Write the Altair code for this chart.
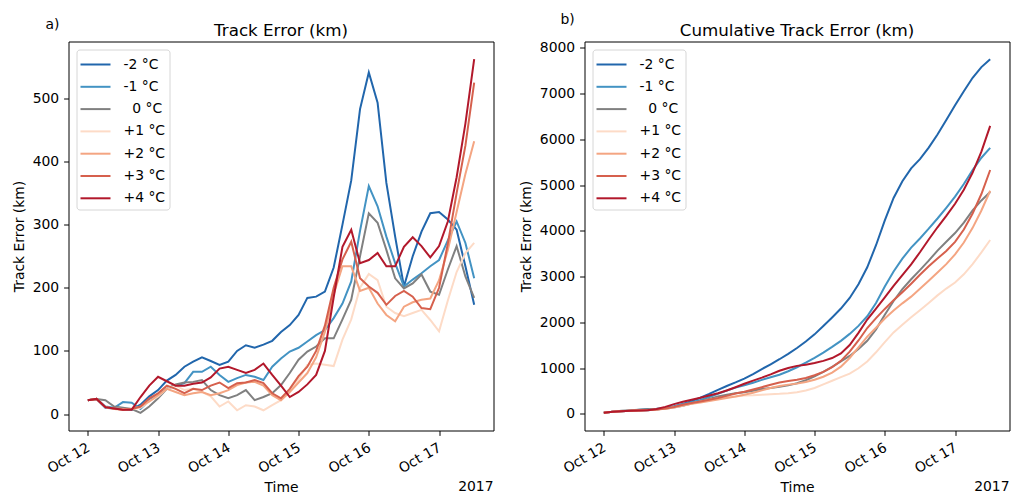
import altair as alt
import pandas as pd

# ---------------- data ----------------
times = pd.date_range("2017-10-12 00:00", periods=45, freq="3h").strftime("%Y-%m-%dT%H:%M:%S").tolist()

labels = ["-2 °C", "-1 °C", "\u200b\u20070 °C", "+1 °C", "+2 °C", "+3 °C", "+4 °C"]
colors = ["#2166ac", "#4393c3", "#808080", "#fddbc7", "#f4a582", "#d6604d", "#b2182b"]

m2 = [22, 24, 10, 9, 8, 7, 15, 28, 38, 53,
      62, 75, 83, 90, 84, 78, 83, 100, 109, 105,
      110, 116, 130, 141, 157, 184, 186, 194, 232, 300,
      370, 483, 541, 493, 366, 281, 202, 250, 289, 318,
      320, 308, 292, 234, 173]
m1 = [22, 24, 12, 10, 19, 18, 8, 22, 32, 40,
      45, 49, 67, 67, 75, 62, 51, 57, 62, 59,
      54, 75, 88, 99, 105, 115, 125, 133, 152, 175,
      210, 290, 361, 329, 281, 239, 202, 213, 223, 234,
      244, 275, 305, 271, 215]
z0 = [22, 24, 22, 12, 10, 8, 2, 12, 25, 40,
      47, 50, 51, 54, 38, 30, 25, 30, 38, 22,
      27, 33, 46, 65, 86, 99, 107, 120, 120, 150,
      181, 250, 318, 303, 260, 215, 199, 207, 221, 194,
      189, 229, 266, 218, 184]
p1 = [22, 24, 11, 9, 8, 8, 10, 20, 28, 40,
      45, 38, 40, 35, 28, 12, 20, 6, 14, 12,
      6, 14, 22, 38, 55, 78, 80, 78, 76, 118,
      150, 200, 222, 212, 170, 160, 155, 160, 165, 149,
      131, 180, 225, 255, 271]
p2 = [22, 24, 11, 8, 7, 8, 12, 20, 30, 40,
      35, 30, 33, 35, 30, 33, 38, 46, 50, 51,
      45, 30, 22, 35, 50, 65, 90, 130, 190, 234,
      234, 195, 200, 175, 157, 147, 170, 177, 181, 183,
      212, 260, 320, 380, 432]
p3 = [22, 24, 11, 9, 7, 8, 12, 25, 33, 45,
      40, 33, 40, 38, 45, 50, 41, 49, 50, 54,
      49, 33, 25, 40, 60, 75, 100, 140, 200, 245,
      273, 215, 202, 192, 173, 187, 195, 186, 168, 166,
      200, 270, 350, 425, 525]
p4 = [22, 24, 11, 9, 7, 7, 27, 45, 59, 52,
      45, 45, 48, 50, 58, 72, 75, 70, 65, 70,
      80, 62, 45, 27, 35, 47, 62, 100, 185, 265,
      292, 239, 244, 255, 234, 234, 265, 280, 266, 248,
      266, 305, 375, 460, 562]

series = [m2, m1, z0, p1, p2, p3, p4]

titles = ["Track Error (km)", "Cumulative Track Error (km)"]
ytitle = "Track Error (km)"
tags = ["a)", "b)"]
year_text = ["2017"]
left_ticks = [0, 100, 200, 300, 400, 500]
right_ticks = [0, 1000, 2000, 3000, 4000, 5000, 6000, 7000, 8000]

rows = []
for lab, vals in zip(labels, series):
    for t, v in zip(times, vals):
        rows.append({"time": t, "series": lab, "value": v})
df = pd.DataFrame(rows)

# ---------------- styling ----------------
FONT = "DejaVu Sans"
W, H = 425, 389
FS = 13.9

xdom = [alt.DateTime(year=2017, month=10, date=11, hours=17, minutes=24),
        alt.DateTime(year=2017, month=10, date=17, hours=18, minutes=36)]


def text_layer(txt, x, y, align, size=FS):
    return alt.Chart(pd.DataFrame({"t": [txt]})).mark_text(
        font=FONT, fontSize=size, align=align, baseline="alphabetic",
        color="black").encode(text="t:N", x=alt.value(x), y=alt.value(y))


def panel(title, ydomain, yticks, tag, tag_x, tag_y, cumulative):
    base = alt.Chart(df)
    yfield = "value"
    if cumulative:
        base = base.transform_window(
            cum="sum(value)", groupby=["series"],
            sort=[alt.SortField("time")], frame=[None, 0])
        yfield = "cum"
    lines = base.mark_line(strokeWidth=2).encode(
        x=alt.X("time:T",
                scale=alt.Scale(domain=xdom),
                axis=alt.Axis(title="Time", format="%b %d",
                              tickCount={"interval": "day", "step": 1},
                              labelAngle=-30, labelAlign="right",
                              labelBaseline="top", labelOverlap=False,
                              labelFlush=False, labelOffset=-3)),
        y=alt.Y(f"{yfield}:Q",
                scale=alt.Scale(domain=ydomain, nice=False, zero=False),
                axis=alt.Axis(title=ytitle, values=yticks, format="d")),
        color=alt.Color("series:N",
                        scale=alt.Scale(domain=labels, range=colors),
                        sort=labels,
                        legend=alt.Legend(
                            title=None, orient="top-left", offset=8,
                            symbolType="M-1.5,0L1.5,0", symbolSize=400,
                            symbolStrokeWidth=2, symbolOffset=4,
                            labelOffset=17, labelFont=FONT,
                            labelFontSize=FS, labelColor="black",
                            padding=4, rowPadding=4.3, labelLimit=200,
                            strokeColor="#d6d6d6", fillColor="white",
                            cornerRadius=3)),
    )
    return alt.layer(
        lines,
        text_layer(title, W / 2, -6, "center", 16.7),
        text_layer(tag, tag_x, tag_y, "left"),
        text_layer(year_text[0], W, H + 60, "right"),
    ).properties(width=W, height=H)


left = panel(titles[0], [-26, 590], left_ticks, tags[0], -23, -13, False)
right = panel(titles[1], [-365, 8140], right_ticks, tags[1], -24, -17.5, True)

chart = alt.hconcat(left, right, spacing=24).resolve_scale(
    color="independent").resolve_legend(color="independent").properties(
    padding={"left": 11.5, "top": 12.5, "right": 0, "bottom": 0}
).configure_view(stroke="black", strokeWidth=1).configure_axis(
    domain=False, grid=False, tickColor="black", tickSize=4.9, tickWidth=1,
    labelPadding=4.9, labelFont=FONT, labelFontSize=FS, labelColor="black",
    titleFont=FONT, titleFontSize=FS, titleFontWeight="normal",
    titleColor="black", titlePadding=5.6
)

chart.save("out.html", embed_options={"renderer": "svg", "actions": False})
